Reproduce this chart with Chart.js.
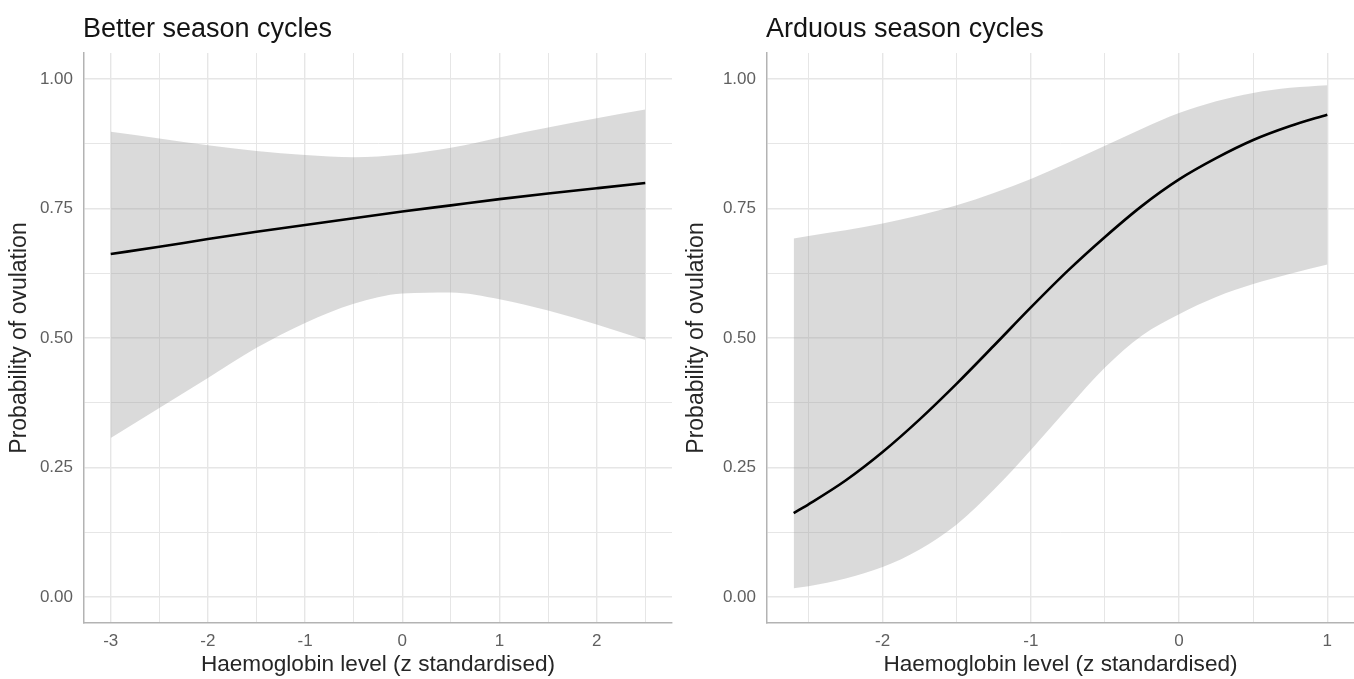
<!DOCTYPE html>
<html>
<head>
<meta charset="utf-8">
<script src="https://cdn.jsdelivr.net/npm/chart.js@4.4.1/dist/chart.umd.min.js"></script>
<style>
  html, body { margin: 0; padding: 0; background: #ffffff; }
  #wrap { position: relative; width: 1354px; height: 679px; overflow: hidden; }
  canvas { position: absolute; top: 0; }
  #c1 { left: 0; }
  #c2 { left: 677px; }
</style>
</head>
<body>
<div id="wrap">
  <canvas id="c1" width="677" height="679"></canvas>
  <canvas id="c2" width="677" height="679"></canvas>
</div>
<script>
// ---------------- data ----------------
const leftTitle = "Better season cycles";
const rightTitle = "Arduous season cycles";
const xTitle = "Haemoglobin level (z standardised)";
const yTitle = "Probability of ovulation";

const leftX     = [-3, -2.5, -2, -1.5, -1, -0.5, 0, 0.5, 1, 1.5, 2, 2.5];
const leftFit   = [0.662, 0.676, 0.691, 0.705, 0.718, 0.731, 0.744, 0.756, 0.768, 0.779, 0.789, 0.799];
const leftUpper = [0.898, 0.885, 0.872, 0.861, 0.853, 0.849, 0.854, 0.867, 0.887, 0.906, 0.924, 0.941];
const leftLower = [0.307, 0.365, 0.423, 0.481, 0.529, 0.566, 0.586, 0.588, 0.575, 0.553, 0.526, 0.496];

const rightX     = [-2.6, -2.5, -2.25, -2, -1.75, -1.5, -1.25, -1, -0.75, -0.5, -0.25, 0, 0.25, 0.5, 0.75, 1];
const rightFit   = [0.162, 0.179, 0.225, 0.280, 0.343, 0.412, 0.485, 0.559, 0.630, 0.695, 0.755, 0.806, 0.847, 0.882, 0.909, 0.931];
const rightUpper = [0.692, 0.697, 0.708, 0.721, 0.737, 0.756, 0.780, 0.807, 0.838, 0.871, 0.904, 0.934, 0.957, 0.973, 0.983, 0.988];
const rightLower = [0.017, 0.021, 0.036, 0.058, 0.092, 0.140, 0.207, 0.284, 0.365, 0.443, 0.505, 0.546, 0.579, 0.604, 0.624, 0.642];

// grid / tick positions (major ticks labelled, minor ticks only draw grid lines)
const leftXTicks  = [-3, -2.5, -2, -1.5, -1, -0.5, 0, 0.5, 1, 1.5, 2, 2.5];
const rightXTicks = [-2.5, -2, -1.5, -1, -0.5, 0, 0.5, 1];
const yTicks      = [0, 0.125, 0.25, 0.375, 0.5, 0.625, 0.75, 0.875, 1];

const leftXRange  = [-3.275, 2.775];
const rightXRange = [-2.78, 1.18];
const yRange      = [-0.05, 1.05];

// ---------------- styling ----------------
const FONT = '"Liberation Sans", Arial, Helvetica, sans-serif';
const GRID = '#e6e6e6';
const AXIS = '#b3b3b3';
const TICK = '#5f5f5f';
const BAND = 'rgba(153,153,153,0.36)';

const panelTitle = {
  id: 'panelTitle',
  afterDraw(chart, args, opts) {
    const { ctx, chartArea } = chart;
    ctx.save();
    ctx.font = '27px ' + FONT;
    ctx.fillStyle = '#141414';
    ctx.textAlign = 'left';
    ctx.textBaseline = 'alphabetic';
    ctx.fillText(opts.text, chartArea.left - 1, 36.5);
    ctx.restore();
  }
};

function pts(xs, ys) { return xs.map((x, i) => ({ x: x, y: ys[i] })); }

function isMajor(v, step) { return Math.abs(v / step - Math.round(v / step)) < 1e-9; }

function makeChart(canvasId, title, xs, fit, upper, lower, xTicks, xRange, yAxisWidth, rightPad) {
  return new Chart(document.getElementById(canvasId), {
    type: 'line',
    data: {
      datasets: [
        {
          label: 'fit', data: pts(xs, fit), borderColor: '#000000', borderWidth: 2.6,
          pointRadius: 0, fill: false, cubicInterpolationMode: 'monotone'
        },
        {
          label: 'upper', data: pts(xs, upper), borderWidth: 0, borderColor: 'rgba(0,0,0,0)',
          backgroundColor: BAND, pointRadius: 0, fill: '+1', cubicInterpolationMode: 'monotone'
        },
        {
          label: 'lower', data: pts(xs, lower), borderWidth: 0, borderColor: 'rgba(0,0,0,0)',
          pointRadius: 0, fill: false, cubicInterpolationMode: 'monotone'
        }
      ]
    },
    options: {
      responsive: false,
      animation: false,
      devicePixelRatio: 1,
      layout: { padding: { left: 0, right: rightPad, top: 53, bottom: 0 } },
      plugins: {
        legend: { display: false },
        tooltip: { enabled: false },
        title: { display: false },
        panelTitle: { text: title }
      },
      scales: {
        x: {
          type: 'linear',
          min: xRange[0], max: xRange[1],
          afterBuildTicks: s => { s.ticks = xTicks.map(v => ({ value: v })); },
          afterFit: s => { s.height = 56; },
          ticks: {
            autoSkip: false, maxRotation: 0, padding: 8, color: TICK,
            font: { family: FONT, size: 17 },
            callback: v => isMajor(v, 1) ? String(Math.round(v)) : ''
          },
          grid: {
            drawTicks: false, color: GRID,
            lineWidth: c => (c.tick && isMajor(c.tick.value, 1)) ? 1.4 : 1
          },
          border: { display: true, color: AXIS, width: 1.5 },
          title: {
            display: true, text: xTitle, color: '#262626',
            font: { family: FONT, size: 22.6 }, padding: { top: 0, bottom: 1 }
          }
        },
        y: {
          type: 'linear',
          min: yRange[0], max: yRange[1],
          afterBuildTicks: s => { s.ticks = yTicks.map(v => ({ value: v })); },
          afterFit: s => { s.width = yAxisWidth; },
          ticks: {
            autoSkip: false, padding: 11, color: TICK,
            font: { family: FONT, size: 17 },
            callback: v => isMajor(v, 0.25) ? Number(v).toFixed(2) : ''
          },
          grid: {
            drawTicks: false, color: GRID,
            lineWidth: c => (c.tick && isMajor(c.tick.value, 0.25)) ? 1.4 : 1
          },
          border: { display: true, color: AXIS, width: 1.5 },
          title: {
            display: true, text: yTitle, color: '#262626',
            font: { family: FONT, size: 23 }, padding: { top: 6, bottom: 0 }
          }
        }
      }
    },
    plugins: [panelTitle]
  });
}

makeChart('c1', leftTitle, leftX, leftFit, leftUpper, leftLower, leftXTicks, leftXRange, 84, 5);
makeChart('c2', rightTitle, rightX, rightFit, rightUpper, rightLower, rightXTicks, rightXRange, 90, 0);
</script>
</body>
</html>
